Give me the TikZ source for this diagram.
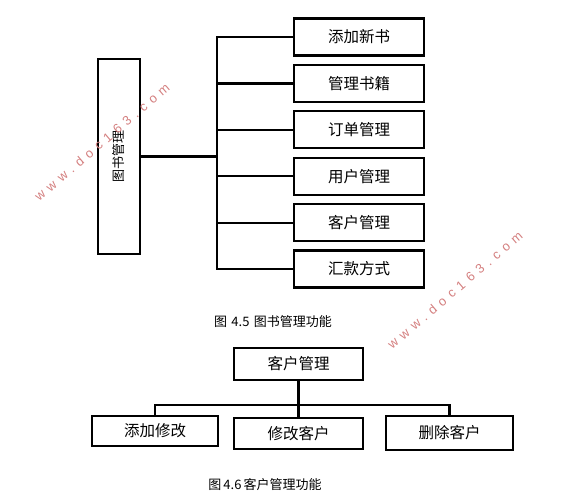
\documentclass[tikz,border=0pt]{standalone}
\usepackage{fontspec}
\usepackage{tikz}
\usetikzlibrary{positioning}
\newfontfamily\cjk{Noto Sans CJK SC}
\newfontfamily\wmfont[LetterSpace=42]{Liberation Sans}
\definecolor{wmred}{RGB}{212,128,128}
\tikzset{box/.style={draw, line width=2.2pt, inner sep=0pt, font=\cjk\fontsize{15.5}{15.5}\selectfont},
  line/.style={draw, line width=2.2pt},
  caption/.style={font=\cjk\fontsize{13}{13}\selectfont},
  mark text/.style={text=wmred, font=\wmfont\fontsize{13}{13}\selectfont, rotate=40.5}}

\begin{document}
\begin{tikzpicture}[x=1pt,y=-1pt]
\useasboundingbox (0,0) rectangle (582,504);
% figure 4.5
\node [box,minimum width=42pt,minimum height=195pt] (lib) at (119,156.5) {};
\node [rotate=90,font=\cjk\fontsize{13}{13}\selectfont] (libt) at (lib.center) {图书管理};
\foreach \t [count=\i] in {添加新书,管理书籍,订单管理,用户管理,客户管理,汇款方式}
  \node [box,minimum width=130pt,minimum height=37pt] (b\i) at (359,{37+46.4*(\i-1)}) {\t};
\coordinate (j) at (217,156.5);
\draw [line] (lib.east) -- (j);
\foreach \i in {1,...,6}
  \draw [line] (j) |- (b\i.west);
\node [caption] (cap1) at (273,322) {图\,\,4.5\,\,图书管理功能};
% figure 4.6
\node [box,minimum width=129pt,minimum height=32pt] (cm) at (298.5,364) {客户管理};
\node [box,minimum width=126pt,minimum height=30pt] (c1) at (155,431) {添加修改};
\node [box,minimum width=129pt,minimum height=31pt] (c2) at (298.5,433.5) {修改客户};
\node [box,minimum width=127pt,minimum height=34pt] (c3) at (449.5,433) {删除客户};
\coordinate (k) at (298.5,405);
\draw [line] (cm.south) -- (k);
\foreach \i in {1,2,3}
  \draw [line] (k) -| (c\i.north);
\node [caption] (cap2) at (265,485) {图\,4.6\,客户管理功能};
% watermarks
\node [mark text] (wm1) at (102,142) {www.doc163.com};
\node [mark text] (wm2) at (455,290) {www.doc163.com};
\end{tikzpicture}
\end{document}
